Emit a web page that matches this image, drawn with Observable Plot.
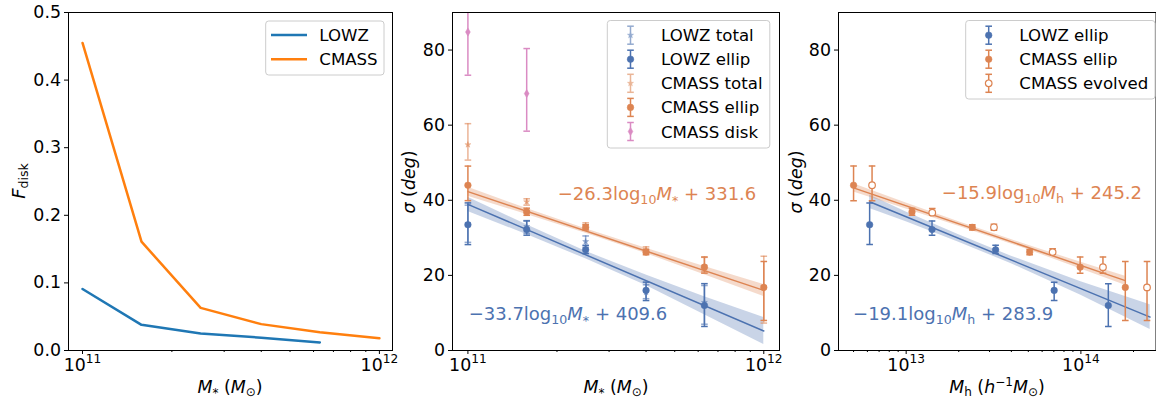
<!DOCTYPE html>
<html>
<head>
<meta charset="utf-8">
<script src="https://cdn.jsdelivr.net/npm/d3@7"></script>
<script src="https://cdn.jsdelivr.net/npm/@observablehq/plot@0.6"></script>
<style>
  html, body { margin: 0; padding: 0; background: #fff; }
  #wrap { position: relative; width: 1156px; height: 401px; overflow: hidden; font-family: "DejaVu Sans", sans-serif; }
  #wrap svg { position: absolute; top: 0; }
  #overlay { left: 0; pointer-events: none; }
</style>
</head>
<body>
<div id="wrap"></div>
<script>
// ---------------- DATA ----------------
// Panel 1: disk fraction vs stellar mass
const fLowzMass = [1.0e11, 1.58e11, 2.5e11, 4.0e11, 6.3e11];
const fLowzDisk = [0.091, 0.038, 0.025, 0.019, 0.012];
const fCmassMass = [1.0e11, 1.58e11, 2.5e11, 4.0e11, 6.3e11, 1.0e12];
const fCmassDisk = [0.455, 0.161, 0.063, 0.039, 0.027, 0.018];

// Panel 2: sigma vs stellar mass
const lowzMass = [1.0e11, 1.58e11, 2.5e11, 4.0e11, 6.3e11];
const lowzTotal = [33.8, 33.0, 29.0, 15.5, 12.8];
const lowzTotalLo = [28.8, 31.2, 27.5, 13.8, 7.0];
const lowzTotalHi = [38.7, 34.6, 30.5, 17.5, 17.3];
const lowzEllip = [33.5, 32.2, 26.8, 16.0, 12.0];
const lowzEllipLo = [28.2, 30.7, 25.8, 13.3, 6.4];
const lowzEllipHi = [39.3, 34.5, 28.0, 18.2, 17.8];

const cmassMass = [1.0e11, 1.58e11, 2.5e11, 4.0e11, 6.3e11, 1.0e12];
const cmassTotal = [54.8, 39.6, 33.2, 26.8, 22.5, 17.0];
const cmassTotalLo = [50.7, 38.7, 32.5, 26.0, 21.0, 7.3];
const cmassTotalHi = [60.4, 40.4, 34.0, 27.6, 24.8, 25.1];
const cmassEllip = [44.0, 36.9, 32.8, 26.2, 22.2, 16.8];
const cmassEllipLo = [39.9, 36.0, 32.1, 25.5, 20.6, 8.0];
const cmassEllipHi = [49.1, 37.9, 33.5, 26.9, 24.9, 23.7];

const diskMass = [1.0e11, 1.58e11];
const cmassDisk = [84.8, 68.4];
const cmassDiskLo = [73.3, 58.4];
const cmassDiskHi = [96.0, 80.4];

// Panel 2 fits (line endpoints and confidence band)
const massFitX = [1.0e11, 1.0e12];
const lowzMassFit = [38.9, 5.2];
const cmassMassFit = [42.3, 16.0];
const massBandX = [1.0e11, 1.58e11, 2.5e11, 4.0e11, 6.3e11, 1.0e12];
const lowzMassBandLo = [37.0, 30.9, 24.4, 17.3, 9.5, 1.6];
const lowzMassBandHi = [40.8, 33.5, 26.4, 20.1, 14.3, 8.8];
const cmassMassBandLo = [41.1, 36.2, 31.2, 25.8, 20.2, 14.4];
const cmassMassBandHi = [43.5, 37.8, 32.4, 27.2, 22.4, 17.6];

// Panel 3: sigma vs halo mass
const lowzHalo = [6.18e12, 1.406e13, 3.25e13, 7.03e13, 1.435e14];
const cmassHalo = [5.0e12, 1.08e13, 2.39e13, 5.09e13, 9.9e13, 1.795e14];
const evolvedHalo = [6.38e12, 1.41e13, 3.18e13, 6.89e13, 1.337e14, 2.39e14];
const cmassEvolved = [44.0, 36.7, 32.8, 26.2, 22.2, 16.8];
const cmassEvolvedLo = [39.9, 36.0, 32.0, 25.6, 20.6, 8.0];
const cmassEvolvedHi = [49.1, 37.8, 33.6, 27.1, 24.9, 23.7];

const lowzHaloFitX = [6.18e12, 2.49e14];
const lowzHaloFit = [39.6, 8.9];
const cmassHaloFitX = [5.0e12, 1.795e14];
const cmassHaloFit = [43.3, 18.6];
const lowzHaloBandX = [6.18e12, 1.0e13, 2.0e13, 4.0e13, 1.0e14, 2.49e14];
const lowzHaloBandLo = [37.8, 34.3, 28.85, 23.1, 14.7, 5.6];
const lowzHaloBandHi = [41.4, 36.9, 30.85, 25.1, 18.3, 12.2];
const cmassHaloBandX = [5.0e12, 1.0e13, 2.0e13, 5.0e13, 1.0e14, 1.795e14];
const cmassHaloBandLo = [42.2, 37.7, 33.1, 26.8, 21.7, 17.4];
const cmassHaloBandHi = [44.4, 39.3, 34.3, 28.0, 23.5, 19.8];

// Ticks
const massMajorTicks = [1e11, 1e12];
const massMinorTicks = [2e11, 3e11, 4e11, 5e11, 6e11, 7e11, 8e11, 9e11];
const haloMajorTicks = [1e13, 1e14];
const haloMinorTicks = [5e12, 6e12, 7e12, 8e12, 9e12, 2e13, 3e13, 4e13, 5e13, 6e13, 7e13, 8e13, 9e13, 2e14];
const fdiskTicks = [0, 0.1, 0.2, 0.3, 0.4, 0.5];
const sigmaTicks = [0, 20, 40, 60, 80];

// ---------------- STYLE ----------------
const FONT = '"DejaVu Sans", sans-serif';
const C_BLUE = "#4c72b0", C_ORANGE = "#dd8452", C_PINK = "#da8bc3";
const M_BLUE = "#1f77b4", M_ORANGE = "#ff7f0e";
const wrap = document.getElementById("wrap");

const capSym = { draw(ctx) { ctx.moveTo(-3.3, 0); ctx.lineTo(3.3, 0); } };
const zip = (xs, ys) => xs.map((x, i) => ({ x, y: ys[i] }));
const zipErr = (xs, ys, lo, hi) => xs.map((x, i) => ({ x, y: ys[i], lo: lo[i], hi: hi[i] }));
const zipBand = (xs, lo, hi) => xs.map((x, i) => ({ x, lo: lo[i], hi: hi[i] }));

function errorbar(xs, ys, lo, hi, o) {
  const data = zipErr(xs, ys, lo, hi);
  const op = o.opacity ?? 1;
  const common = { x: "x", stroke: o.color, strokeWidth: 1.5, strokeOpacity: op, clip: true };
  return [
    Plot.ruleX(data, { ...common, y1: "lo", y2: "hi" }),
    Plot.dot(data, { ...common, y: "lo", symbol: capSym, fill: "none" }),
    Plot.dot(data, { ...common, y: "hi", symbol: capSym, fill: "none" }),
    Plot.dot(data, { x: "x", y: "y", symbol: o.symbol || "circle", r: o.r ?? 3.3,
      fill: o.fill || o.color, fillOpacity: op, stroke: o.color, strokeOpacity: op,
      strokeWidth: o.fill ? 1.2 : 0.5, clip: true })
  ];
}

function band(xs, lo, hi, color) {
  return Plot.areaY(zipBand(xs, lo, hi), { x: "x", y1: "lo", y2: "hi", fill: color, fillOpacity: 0.3 });
}
function fit(xs, ys, color) {
  return Plot.line(zip(xs, ys), { x: "x", y: "y", stroke: color, strokeWidth: 1.5 });
}

function axes(major, minor, yticks, yfmt) {
  return [
    Plot.axisX({ ticks: minor, tickSize: 2, tickFormat: () => "", label: null }),
    Plot.axisX({ ticks: major, tickSize: 4, tickPadding: 4, label: null,
      tickFormat: d => "10^" + Math.round(Math.log10(d)) }),
    Plot.axisY({ ticks: yticks, tickSize: 4, tickPadding: 3.5, label: null, tickFormat: yfmt }),
    Plot.frame({ stroke: "black", strokeWidth: 1 })
  ];
}

function supTicks(svg) {
  d3.select(svg).selectAll("text").each(function () {
    const m = /^10\^(\d+)$/.exec(this.textContent);
    if (!m) return;
    const t = d3.select(this);
    t.text(null);
    t.append("tspan").text("10");
    t.append("tspan").attr("font-size", "0.7em").attr("dy", "-0.62em").text(m[1]);
  });
}

const baseStyle = { fontFamily: FONT, fontSize: "17.4px", color: "black", background: "transparent", overflow: "visible" };

// ---------------- PANEL 1 ----------------
const p1 = Plot.plot({
  width: 395, height: 401, marginLeft: 68, marginRight: 3, marginTop: 12, marginBottom: 51,
  style: baseStyle,
  x: { type: "log", domain: [8.97e10, 1.107e12] },
  y: { domain: [0, 0.5] },
  marks: [
    Plot.line(zip(fLowzMass, fLowzDisk), { x: "x", y: "y", stroke: M_BLUE, strokeWidth: 2.5 }),
    Plot.line(zip(fCmassMass, fCmassDisk), { x: "x", y: "y", stroke: M_ORANGE, strokeWidth: 2.5 }),
    ...axes(massMajorTicks, massMinorTicks, fdiskTicks, d3.format(".1f"))
  ]
});
p1.style.left = "0px";
wrap.appendChild(p1);

// ---------------- PANEL 2 ----------------
const p2 = Plot.plot({
  width: 390, height: 401, marginLeft: 57, marginRight: 6, marginTop: 12, marginBottom: 51,
  style: baseStyle,
  x: { type: "log", domain: [8.87e10, 1.13e12] },
  y: { domain: [0, 90] },
  marks: [
    band(massBandX, lowzMassBandLo, lowzMassBandHi, C_BLUE),
    band(massBandX, cmassMassBandLo, cmassMassBandHi, C_ORANGE),
    fit(massFitX, lowzMassFit, C_BLUE),
    fit(massFitX, cmassMassFit, C_ORANGE),
    ...errorbar(lowzMass, lowzTotal, lowzTotalLo, lowzTotalHi, { color: C_BLUE, opacity: 0.6, symbol: "star", r: 1.9 }),
    ...errorbar(lowzMass, lowzEllip, lowzEllipLo, lowzEllipHi, { color: C_BLUE }),
    ...errorbar(cmassMass, cmassTotal, cmassTotalLo, cmassTotalHi, { color: C_ORANGE, opacity: 0.6, symbol: "star", r: 1.9 }),
    ...errorbar(cmassMass, cmassEllip, cmassEllipLo, cmassEllipHi, { color: C_ORANGE }),
    ...errorbar(diskMass, cmassDisk, cmassDiskLo, cmassDiskHi, { color: C_PINK, symbol: "diamond", r: 2.5 }),
    ...axes(massMajorTicks, massMinorTicks, sigmaTicks, d3.format("d"))
  ]
});
p2.style.left = "395px";
wrap.appendChild(p2);

// ---------------- PANEL 3 ----------------
const p3 = Plot.plot({
  width: 371, height: 401, marginLeft: 53, marginRight: 0.5, marginTop: 12, marginBottom: 51,
  style: baseStyle,
  x: { type: "log", domain: [4.1e12, 2.69e14] },
  y: { domain: [0, 90] },
  marks: [
    band(lowzHaloBandX, lowzHaloBandLo, lowzHaloBandHi, C_BLUE),
    band(cmassHaloBandX, cmassHaloBandLo, cmassHaloBandHi, C_ORANGE),
    fit(lowzHaloFitX, lowzHaloFit, C_BLUE),
    fit(cmassHaloFitX, cmassHaloFit, C_ORANGE),
    ...errorbar(lowzHalo, lowzEllip, lowzEllipLo, lowzEllipHi, { color: C_BLUE }),
    ...errorbar(cmassHalo, cmassEllip, cmassEllipLo, cmassEllipHi, { color: C_ORANGE }),
    ...errorbar(evolvedHalo, cmassEvolved, cmassEvolvedLo, cmassEvolvedHi, { color: C_ORANGE, fill: "white" }),
    ...axes(haloMajorTicks, haloMinorTicks, sigmaTicks, d3.format("d"))
  ]
});
p3.style.left = "785px";
wrap.appendChild(p3);

[p1, p2, p3].forEach(supTicks);

// ---------------- OVERLAY: labels, annotations, legends ----------------
const ov = d3.select(wrap).append("svg").attr("id", "overlay")
  .attr("width", 1156).attr("height", 401)
  .style("font-family", FONT);

function rich(sel, parts) {
  let cur = 0;
  for (const p of parts) {
    const shift = p.shift || 0;
    const ts = sel.append("tspan").text(p.t);
    if (shift !== cur) { ts.attr("dy", shift - cur); cur = shift; }
    if (p.it) ts.attr("font-style", "italic");
    if (p.size) ts.attr("font-size", p.size);
  }
  return sel;
}
function label(x, y, parts, { rotate = false, size = 17.4, color = "black", anchor = "middle" } = {}) {
  const t = ov.append("text")
    .attr("font-size", size).attr("fill", color).attr("text-anchor", anchor)
    .attr("transform", rotate ? `translate(${x},${y}) rotate(-90)` : `translate(${x},${y})`);
  return rich(t, parts);
}

// axis labels
const mStar = [{ t: "M", it: true }, { t: "*", size: 12, shift: 4 }, { t: " (" , shift: 0}, { t: "M", it: true }, { t: "⊙", size: 12, shift: 3 }, { t: ")" }];
label(230, 393, mStar);
label(616, 393, mStar);
label(997, 393, [{ t: "M", it: true }, { t: "h", size: 12, shift: 3 }, { t: " (" }, { t: "h", it: true }, { t: "−1", size: 12, shift: -7 }, { t: "M", it: true }, { t: "⊙", size: 12, shift: 3 }, { t: ")" }]);
label(25, 181, [{ t: "F", it: true }, { t: "disk", size: 12.5, shift: 3 }], { rotate: true, size: 18 });
const sigLab = [{ t: "σ", it: true }, { t: " (" }, { t: "deg", it: true }, { t: ")" }];
label(415, 182, sigLab, { rotate: true });
label(801.5, 182, sigLab, { rotate: true });

// fit annotations, placed through the plots' scales
function ann(plot, left, xv, yv, parts, color) {
  const px = plot.scale("x").apply(xv) + left;
  const py = plot.scale("y").apply(yv);
  label(px, py, parts, { size: 18, color, anchor: "start" });
}
const sub = (t, s) => ({ t, size: 12.6, shift: s });
ann(p2, 395, 2.02e11, 40.0, [{ t: "−26.3log" }, sub("10", 4), { t: "M", it: true }, sub("*", 5), { t: " + 331.6" }], C_ORANGE);
ann(p2, 395, 1.01e11, 8.0, [{ t: "−33.7log" }, sub("10", 4), { t: "M", it: true }, sub("*", 5), { t: " + 409.6" }], C_BLUE);
ann(p3, 785, 1.61e13, 40.2, [{ t: "−15.9log" }, sub("10", 4), { t: "M", it: true }, sub("h", 4), { t: " + 245.2" }], C_ORANGE);
ann(p3, 785, 5.0e12, 8.0, [{ t: "−19.1log" }, sub("10", 4), { t: "M", it: true }, sub("h", 4), { t: " + 283.9" }], C_BLUE);

// legends
function legend(box, iconX, textX, rows) {
  ov.append("rect").attr("x", box[0]).attr("y", box[1]).attr("width", box[2]).attr("height", box[3])
    .attr("rx", 3).attr("fill", "white").attr("fill-opacity", 0.8).attr("stroke", "#cccccc").attr("stroke-width", 1);
  rows.forEach(r => {
    r.icon(iconX, r.y);
    ov.append("text").attr("x", textX).attr("y", r.y + 6).attr("font-size", 16.6).attr("fill", "black").text(r.label);
  });
}
const lineIcon = color => (x, y) => ov.append("line").attr("x1", x - 18).attr("x2", x + 18).attr("y1", y).attr("y2", y)
  .attr("stroke", color).attr("stroke-width", 2.5);
const ebIcon = (color, sym, r, opacity = 1, fill) => (x, y) => {
  const g = ov.append("g").attr("opacity", opacity);
  g.append("line").attr("x1", x).attr("x2", x).attr("y1", y - 9).attr("y2", y + 9).attr("stroke", color).attr("stroke-width", 1.5);
  [y - 9, y + 9].forEach(cy => g.append("line").attr("x1", x - 3.3).attr("x2", x + 3.3).attr("y1", cy).attr("y2", cy).attr("stroke", color).attr("stroke-width", 1.5));
  g.append("path").attr("transform", `translate(${x},${y})`)
    .attr("d", d3.symbol(sym, Math.PI * r * r)())
    .attr("fill", fill || color).attr("stroke", color).attr("stroke-width", fill ? 1.2 : 0.5);
};

legend([265.7, 21, 118.3, 54], 289, 319.3, [
  { label: "LOWZ", y: 35, icon: lineIcon(M_BLUE) },
  { label: "CMASS", y: 59.2, icon: lineIcon(M_ORANGE) }
]);
legend([607.3, 20.5, 162.5, 127.5], 630.5, 661, [
  { label: "LOWZ total", y: 35.2, icon: ebIcon(C_BLUE, d3.symbolStar, 1.9, 0.6) },
  { label: "LOWZ ellip", y: 59.2, icon: ebIcon(C_BLUE, d3.symbolCircle, 3.3) },
  { label: "CMASS total", y: 83.3, icon: ebIcon(C_ORANGE, d3.symbolStar, 1.9, 0.6) },
  { label: "CMASS ellip", y: 107.4, icon: ebIcon(C_ORANGE, d3.symbolCircle, 3.3) },
  { label: "CMASS disk", y: 131.5, icon: ebIcon(C_PINK, d3.symbolDiamond, 2.5) }
]);
legend([965.7, 20.5, 189.3, 78.5], 988.7, 1019.3, [
  { label: "LOWZ ellip", y: 35.2, icon: ebIcon(C_BLUE, d3.symbolCircle, 3.3) },
  { label: "CMASS ellip", y: 59.2, icon: ebIcon(C_ORANGE, d3.symbolCircle, 3.3) },
  { label: "CMASS evolved", y: 83.3, icon: ebIcon(C_ORANGE, d3.symbolCircle, 3.3, 1, "white") }
]);
</script>
</body>
</html>
